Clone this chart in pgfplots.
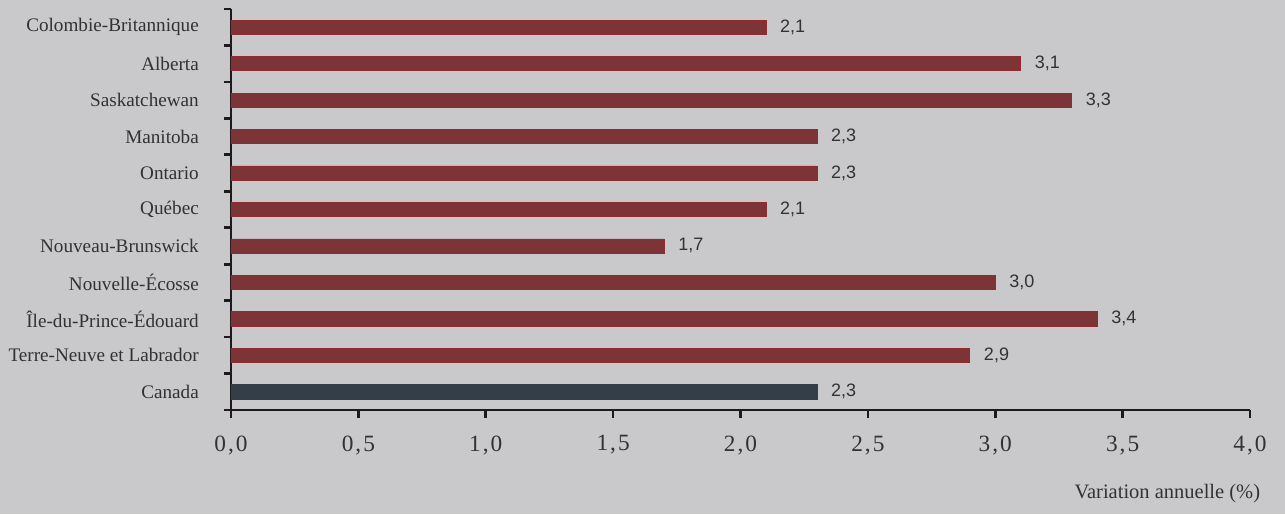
\documentclass[border=0pt]{standalone}
\usepackage{fontspec}
\setmainfont{Liberation Serif}
\newfontfamily\valfont{Liberation Sans}
\usepackage{pgfplots}
\pgfplotsset{compat=1.18}
\definecolor{bg}{RGB}{201,201,203}
\definecolor{barred}{RGB}{124,52,55}
\definecolor{barblue}{RGB}{52,62,72}
\definecolor{txt}{RGB}{50,50,54}
\definecolor{axc}{RGB}{30,26,26}
\newcommand{\tl}[2]{#1\kern1.2pt,\kern1.2pt#2}
\begin{document}
\begin{tikzpicture}
\fill[bg] (0pt,0pt) rectangle (771pt,308.4pt);
\begin{axis}[
  at={(138.6pt,62.4pt)}, anchor=south west,
  scale only axis, width=611.4pt, height=240.6pt,
  xmin=0, xmax=4, ymin=-0.5, ymax=10.5,
  xbar, bar width=0.39, bar shift=0pt,
  axis lines*=left,
  axis line style={draw=axc, line width=1.7pt},
  every outer x axis line/.append style={draw=axc, line width=1.7pt},
  every outer y axis line/.append style={draw=axc, line width=1.7pt},
  tick style={draw=axc, line width=1.6pt},
  tick align=outside,
  xtick={0,0.5,1,1.5,2,2.5,3,3.5,4},
  xticklabels={{\tl00},{\tl05},{\tl10},{\tl15},{\tl20},{\tl25},{\tl30},{\tl35},{\tl40}},
  major tick length=4.8pt,
  xticklabel style={font=\fontsize{14}{14}\selectfont, text=txt, yshift=-7pt},
  ytick={0,...,10},
  yticklabels={Canada,Terre-Neuve et Labrador,Île-du-Prince-Édouard,Nouvelle-Écosse,Nouveau-Brunswick,Québec,Ontario,Manitoba,Saskatchewan,Alberta,Colombie-Britannique},
  major y tick style={draw=none},
  minor ytick={-0.5,0.5,...,10.5},
  minor tick length=4.4pt,
  yticklabel style={font=\fontsize{11.5}{12}\selectfont, text=txt, xshift=-11pt},
  /pgf/number format/assume math mode=true,
  nodes near coords={\pgfmathprintnumber[fixed,fixed zerofill,precision=1,use comma]{\pgfplotspointmeta}},
  nodes near coords style={font=\valfont\fontsize{10.8}{11}\selectfont, text=txt, anchor=west, xshift=5pt},
  clip=false,
]
\addplot[fill=barred, draw=barred!85!red] coordinates {
 (2.9,1) (3.4,2) (3.0,3) (1.7,4) (2.1,5) (2.3,6) (2.3,7) (3.3,8) (3.1,9) (2.1,10)};
\addplot[fill=barblue, draw=barblue] coordinates {(2.3,0)};
\end{axis}
\node[anchor=east, text=txt, font=\fontsize{12.3}{13}\selectfont] at (759.6pt,12pt) {Variation annuelle (\%)};
\end{tikzpicture}
\end{document}
